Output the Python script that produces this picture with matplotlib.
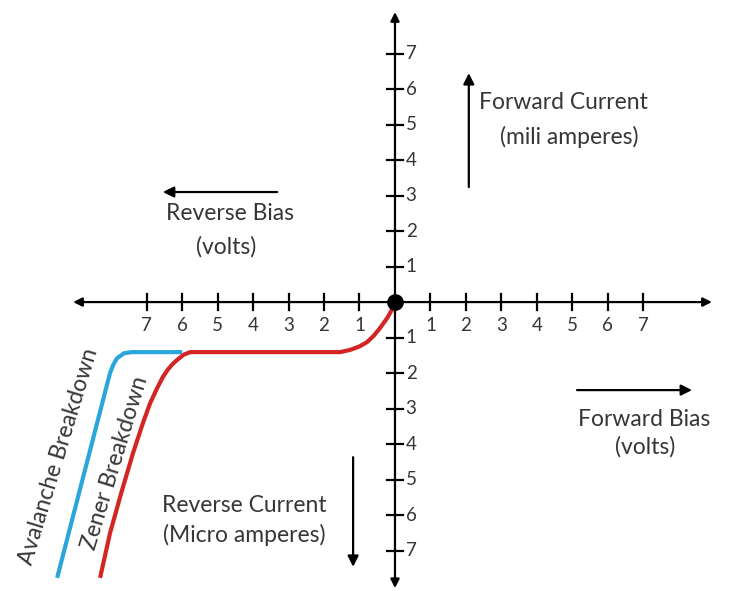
import matplotlib.pyplot as plt

# tick labels on each half-axis
x_ticks = [1, 2, 3, 4, 5, 6, 7]
y_ticks = [1, 2, 3, 4, 5, 6, 7]

# curves (volts, current)
zener_x = [-8.31, -8.03, -7.70, -7.38, -7.10, -6.90, -6.70, -6.54, -6.40, -6.26, -6.14, -5.95, -5.77, -1.55, -1.27, -1.00, -0.79, -0.60, -0.42, -0.22, -0.06, 0.0]
zener_y = [-7.77, -6.51, -5.33, -4.25, -3.40, -2.85, -2.42, -2.11, -1.90, -1.74, -1.63, -1.48, -1.41, -1.41, -1.35, -1.25, -1.13, -0.95, -0.73, -0.45, -0.17, 0.0]
aval_x = [-9.52, -8.03, -7.93, -7.83, -7.63, -7.41, -6.0]
aval_y = [-7.77, -2.0, -1.75, -1.58, -1.44, -1.41, -1.41]

font = "Lato"
txt_col = "#363636"

fig = plt.figure(figsize=(7.3, 5.91), dpi=100)
ax = fig.add_axes([0, 0, 1, 1])
ax.set_xlim(-11.13, 9.44)
ax.set_ylim(-8.14, 8.51)
ax.axis("off")

#main axes with arrow heads
arrow = dict(arrowstyle="<|-|>", color="black", lw=1.6, mutation_scale=13, shrinkA=0, shrinkB=0)
ax.annotate("", xy=(-9.07, 0), xytext=(8.93, 0), arrowprops=arrow)
ax.annotate("", xy=(0, 8.17), xytext=(0, -8.06), arrowprops=arrow)

# ticks
for t in x_ticks:
    for s in (-1, 1):
        ax.plot([s * t, s * t], [-0.22, 0.22], color="black", lw=1.6)
        ax.text(s * t, -0.66, str(t), ha="center", va="center", fontsize=13.5, family=font, color=txt_col)
for t in y_ticks:
    for s in (-1, 1):
        ax.plot([-0.22, 0.22], [s * t, s * t], color="black", lw=1.6)
        ax.text(0.3, s * t, str(t), ha="left", va="center", fontsize=13.5, family=font, color=txt_col)

# curves
ax.plot(aval_x, aval_y, color="#2aa6dc", lw=3, solid_joinstyle="round", solid_capstyle="butt")
ax.plot(zener_x, zener_y, color="#d42525", lw=3, solid_joinstyle="round", solid_capstyle="butt")
ax.plot(0, 0, "o", color="black", markersize=11, zorder=5)

# direction arrows
small = dict(arrowstyle="-|>", color="black", lw=1.6, mutation_scale=16, shrinkA=0, shrinkB=0)
ax.annotate("", xy=(2.08, 6.45), xytext=(2.08, 3.24), arrowprops=small)
ax.annotate("", xy=(-6.54, 3.1), xytext=(-3.32, 3.1), arrowprops=small)
ax.annotate("", xy=(8.37, -2.48), xytext=(5.13, -2.48), arrowprops=small)
ax.annotate("", xy=(-1.18, -7.46), xytext=(-1.18, -4.37), arrowprops=small)

# labels
lab = dict(ha="center", va="center", fontsize=16.5, family=font, color=txt_col)
ax.text(4.75, 5.61, "Forward Current", **lab)
ax.text(4.9, 4.65, "(mili amperes)", **lab)
ax.text(-4.65, 2.5, "Reverse Bias", **lab)
ax.text(-4.76, 1.55, "(volts)", **lab)
ax.text(7.02, -3.32, "Forward Bias", **lab)
ax.text(7.05, -4.08, "(volts)", **lab)
ax.text(-4.25, -5.72, "Reverse Current", **lab)
ax.text(-4.25, -6.56, "(Micro amperes)", **lab)
ax.text(-9.49, -4.35, "Avalanche Breakdown", rotation=73, **lab)
ax.text(-7.88, -4.54, "Zener Breakdown", rotation=73, **lab)

fig.savefig("out.png", dpi=100)
